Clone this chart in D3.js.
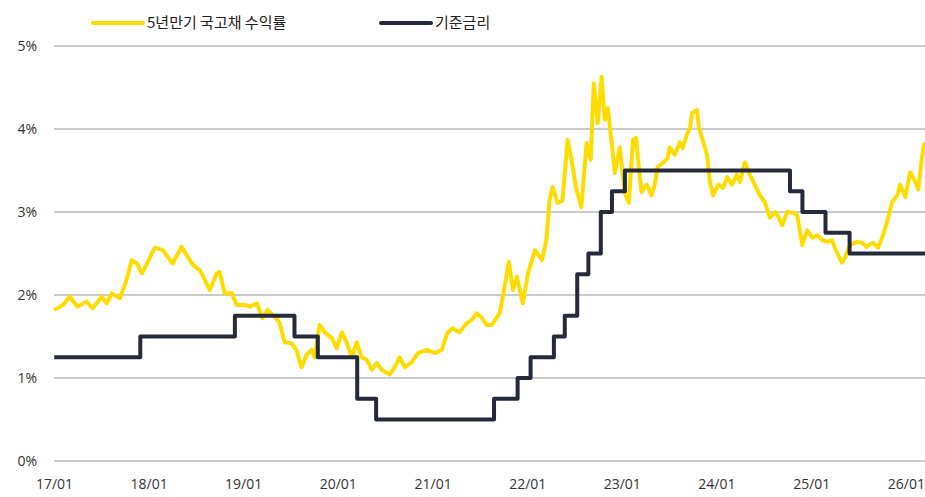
<!DOCTYPE html>
<html>
<head>
<meta charset="utf-8">
<script src="https://cdn.jsdelivr.net/npm/d3@7"></script>
<style>
  body { margin: 0; background: #fff; }
  svg { display: block; font-family: "Noto Sans CJK KR", "Noto Sans", sans-serif; }
</style>
</head>
<body>
<svg width="925" height="497"></svg>
<script>
// 5년만기 국고채 수익률 (%)
var yieldDates = [
  "2017-01-02","2017-02-05","2017-03-02","2017-04-02","2017-05-06","2017-05-30","2017-07-04","2017-07-23",
  "2017-08-12","2017-09-12","2017-10-01","2017-10-13","2017-10-28","2017-11-17","2017-12-06","2017-12-29",
  "2018-01-25","2018-02-25","2018-04-04","2018-05-08","2018-06-01","2018-06-22","2018-07-17","2018-07-28",
  "2018-08-25","2018-09-21","2018-10-02","2018-10-22","2018-11-18","2018-12-07","2019-01-08","2019-01-27",
  "2019-02-23","2019-03-16","2019-04-05","2019-05-02","2019-05-21","2019-06-10","2019-07-06","2019-07-25",
  "2019-08-14","2019-09-03","2019-09-22","2019-10-04","2019-10-23","2019-11-12","2019-12-09","2019-12-28",
  "2020-01-17","2020-02-05","2020-02-24","2020-03-14","2020-04-02","2020-04-22","2020-05-11","2020-05-30",
  "2020-06-19","2020-07-19","2020-08-08","2020-08-27","2020-09-16","2020-10-13","2020-11-05","2020-12-10",
  "2021-01-10","2021-02-06","2021-02-26","2021-03-19","2021-04-15","2021-05-12","2021-06-01","2021-06-20",
  "2021-07-09","2021-07-28","2021-08-17","2021-09-17","2021-10-06","2021-10-22","2021-11-07","2021-11-22",
  "2021-12-15","2022-01-04","2022-01-31","2022-02-27","2022-03-16","2022-03-28","2022-04-09","2022-04-28",
  "2022-05-17","2022-06-06","2022-06-21","2022-07-10","2022-07-29","2022-08-18","2022-09-03","2022-09-15",
  "2022-09-30","2022-10-15","2022-10-27","2022-11-08","2022-11-23","2022-12-05","2022-12-24","2023-01-13",
  "2023-01-28","2023-02-13","2023-02-25","2023-03-03","2023-03-18","2023-04-07","2023-04-26","2023-05-08",
  "2023-05-19","2023-06-08","2023-06-27","2023-07-05","2023-07-24","2023-08-13","2023-08-24","2023-09-09",
  "2023-09-21","2023-09-29","2023-10-18","2023-10-26","2023-11-07","2023-11-26","2023-12-07","2023-12-19",
  "2024-01-08","2024-01-27","2024-02-12","2024-03-01","2024-03-20","2024-04-01","2024-04-20","2024-05-09",
  "2024-05-28","2024-06-17","2024-07-06","2024-07-25","2024-08-14","2024-08-26","2024-09-11","2024-09-30",
  "2024-10-23","2024-11-08","2024-11-27","2024-12-16","2025-01-05","2025-01-24","2025-02-13","2025-03-03",
  "2025-03-22","2025-04-10","2025-04-30","2025-05-11","2025-05-30","2025-06-27","2025-07-16","2025-08-04",
  "2025-08-27","2025-09-16","2025-10-05","2025-10-25","2025-11-09","2025-11-29","2025-12-10","2025-12-30",
  "2026-01-18","2026-02-07","2026-02-18","2026-03-04","2026-03-14"
];
var yieldValues = [
  1.82,1.88,1.98,1.86,1.92,1.84,1.98,1.90,
  2.02,1.96,2.12,2.24,2.42,2.38,2.26,2.40,
  2.57,2.54,2.38,2.58,2.46,2.36,2.30,2.24,
  2.06,2.26,2.28,2.02,2.02,1.88,1.88,1.86,
  1.90,1.72,1.82,1.74,1.67,1.43,1.42,1.34,
  1.13,1.28,1.34,1.25,1.64,1.55,1.48,1.36,
  1.55,1.42,1.25,1.43,1.25,1.22,1.10,1.18,
  1.10,1.04,1.13,1.25,1.13,1.19,1.30,1.34,
  1.30,1.34,1.54,1.60,1.55,1.66,1.70,1.78,
  1.73,1.64,1.64,1.78,2.10,2.40,2.06,2.22,
  1.90,2.26,2.54,2.42,2.66,3.14,3.30,3.11,
  3.14,3.87,3.63,3.27,3.06,3.83,3.63,4.55,
  4.07,4.63,4.11,4.25,3.83,3.47,3.78,3.23,
  3.11,3.87,3.89,3.69,3.24,3.33,3.20,3.33,
  3.54,3.59,3.65,3.78,3.69,3.84,3.77,3.93,
  4.01,4.19,4.23,4.01,3.89,3.69,3.36,3.20,
  3.33,3.29,3.42,3.33,3.45,3.36,3.60,3.45,
  3.33,3.20,3.12,2.93,3.00,2.95,2.84,3.00,
  2.99,2.96,2.60,2.78,2.69,2.72,2.66,2.64,
  2.66,2.51,2.39,2.45,2.60,2.64,2.63,2.58,
  2.63,2.57,2.72,2.93,3.12,3.20,3.33,3.18,
  3.48,3.36,3.27,3.65,3.84
];

// 기준금리 (%), change dates
var rateDates = [
  "2017-01-02","2017-11-30","2018-11-30","2019-07-18","2019-10-16","2020-03-16","2020-05-28",
  "2021-08-26","2021-11-25","2022-01-14","2022-04-14","2022-05-26","2022-07-13","2022-08-25",
  "2022-10-12","2022-11-24","2023-01-13","2024-10-11","2024-11-28","2025-02-25","2025-05-29","2026-03-16"
];
var rateValues = [
  1.25,1.50,1.75,1.50,1.25,0.75,0.50,
  0.75,1.00,1.25,1.50,1.75,2.25,2.50,
  3.00,3.25,3.50,3.25,3.00,2.75,2.50,2.50
];

var yTicks = [0, 1, 2, 3, 4, 5];
var seriesNames = ["5년만기 국고채 수익률", "기준금리"];
var seriesColors = ["#FFDC00", "#262A3B"];

var parse = d3.timeParse("%Y-%m-%d");
var yieldData = yieldDates.map(function (d, i) { return { date: parse(d), value: yieldValues[i] }; });
var rateData = rateDates.map(function (d, i) { return { date: parse(d), value: rateValues[i] }; });

var svg = d3.select("svg"),
  margin = { left: 54, right: 0, top: 46, bottom: 36 },
  width = +svg.attr("width"),
  height = +svg.attr("height");

var x = d3.scaleTime()
  .domain([parse("2017-01-01"), parse("2026-03-16")])
  .range([margin.left, width - margin.right]);

var y = d3.scaleLinear()
  .domain([0, 5])
  .range([height - margin.bottom, margin.top]);

// gridlines
svg.append("g")
  .selectAll("line")
  .data(yTicks)
  .enter().append("line")
  .attr("x1", margin.left)
  .attr("x2", width - margin.right)
  .attr("y1", y)
  .attr("y2", y)
  .attr("stroke", "#b7b8bb")
  .attr("stroke-width", 1.5);

svg.append("g")
  .selectAll("text")
  .data(yTicks)
  .enter().append("text")
  .attr("x", 37)
  .attr("y", y)
  .attr("dy", "0.35em")
  .attr("text-anchor", "end")
  .attr("font-size", 14)
  .attr("font-family", "\"Open Sans\", sans-serif")
  .attr("fill", "#333")
  .text(function (d) { return d + "%"; });

// x axis labels
var xAxis = d3.axisBottom(x)
  .ticks(d3.timeYear.every(1))
  .tickFormat(d3.timeFormat("%y/%m"))
  .tickSize(0)
  .tickPadding(12);

svg.append("g")
  .attr("transform", "translate(0," + (height - margin.bottom + 6) + ")")
  .call(xAxis)
  .call(function (g) {
    g.select(".domain").remove();
    g.selectAll("text")
      .attr("font-size", 14)
      .attr("font-family", "\"Open Sans\", sans-serif")
      .attr("fill", "#333");
  });

var line = d3.line()
  .x(function (d) { return x(d.date); })
  .y(function (d) { return y(d.value); });

svg.append("path")
  .datum(yieldData)
  .attr("fill", "none")
  .attr("stroke", seriesColors[0])
  .attr("stroke-width", 4)
  .attr("stroke-linejoin", "round")
  .attr("d", line);

svg.append("path")
  .datum(rateData)
  .attr("fill", "none")
  .attr("stroke", seriesColors[1])
  .attr("stroke-width", 4)
  .attr("stroke-linejoin", "round")
  .attr("d", line.curve(d3.curveStepAfter));

// legend
var legend = svg.append("g")
  .selectAll("g")
  .data(seriesNames)
  .enter().append("g")
  .attr("transform", function (d, i) { return "translate(" + [93, 381][i] + ",23)"; });

legend.append("line")
  .attr("x1", 0)
  .attr("x2", 50)
  .attr("stroke", function (d, i) { return seriesColors[i]; })
  .attr("stroke-width", 4)
  .attr("stroke-linecap", "round");

legend.append("text")
  .attr("x", 54)
  .attr("dy", "0.35em")
  .attr("font-size", 15)
  .attr("fill", "#222")
  .text(function (d) { return d; });
</script>
</body>
</html>
